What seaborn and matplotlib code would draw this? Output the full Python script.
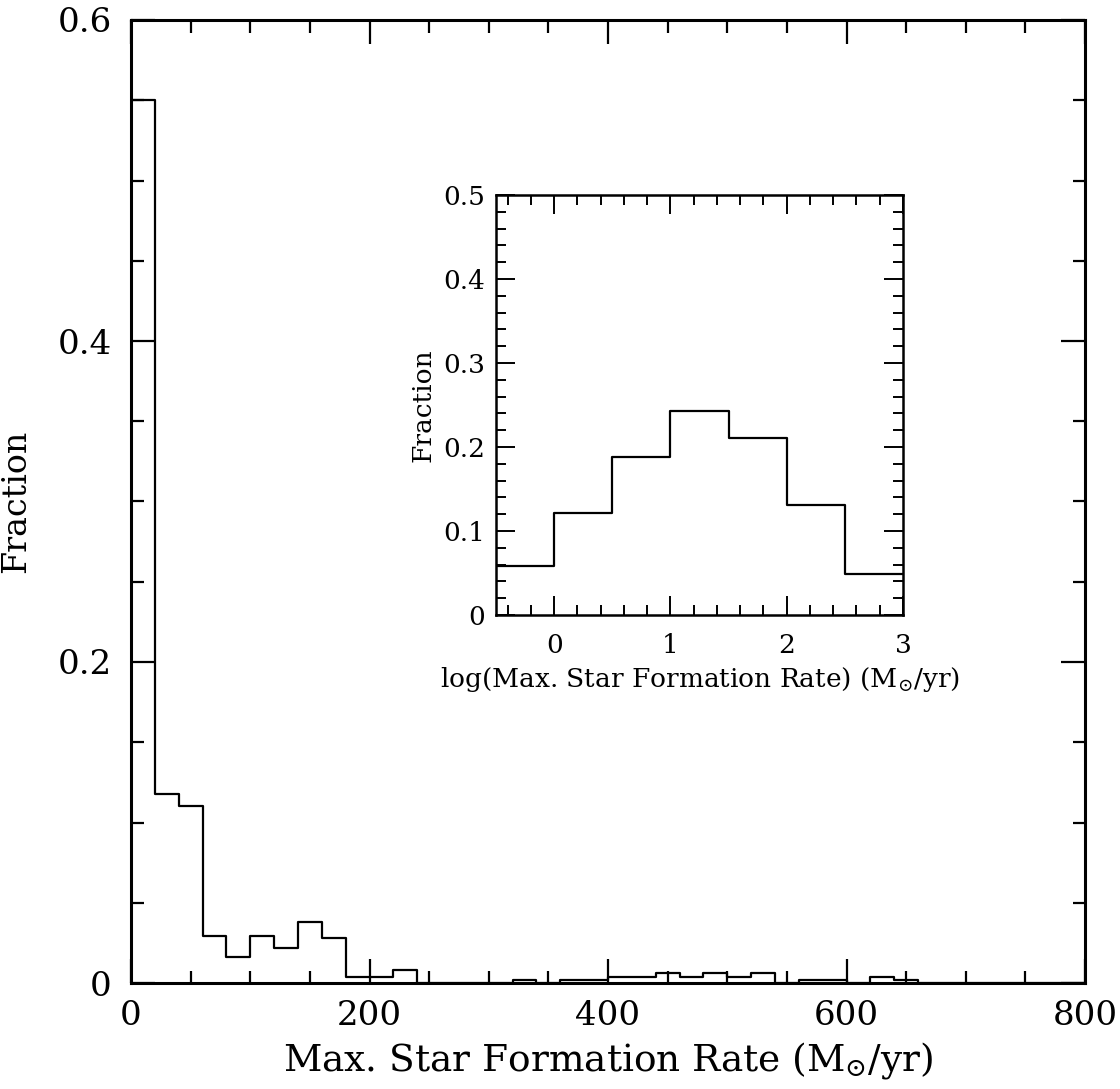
import numpy as np
import pandas as pd
import matplotlib
matplotlib.use("Agg")
import matplotlib.pyplot as plt
from matplotlib.ticker import MultipleLocator, FixedLocator
import seaborn as sns

# ---- data ----
# main histogram: bin edges every 20 (M_sun/yr), fraction per bin
main_edges = list(range(0, 820, 20))
main_fraction = [0.550, 0.118, 0.110, 0.029, 0.016, 0.029, 0.022, 0.038, 0.028, 0.004,
                 0.004, 0.008, 0.0, 0.0, 0.0, 0.0, 0.002, 0.0, 0.002, 0.002,
                 0.004, 0.004, 0.006, 0.004, 0.006, 0.004, 0.006, 0.0, 0.002, 0.002,
                 0.0, 0.004, 0.002, 0.0, 0.0, 0.0, 0.0, 0.0, 0.0, 0.0]
# inset histogram: log SFR bins of 0.5
inset_edges = [-0.5, 0.0, 0.5, 1.0, 1.5, 2.0, 2.5, 3.0]
inset_fraction = [0.058, 0.121, 0.188, 0.243, 0.211, 0.131, 0.049]

main_xticks = [0, 200, 400, 600, 800]
main_yticks = [0, 0.2, 0.4, 0.6]
inset_xticks = [0, 1, 2, 3]
inset_yticks = [0, 0.1, 0.2, 0.3, 0.4, 0.5]

sns.set_theme(style="ticks")
plt.rcParams["font.family"] = ["DejaVu Serif", "DejaVu Sans"]
plt.rcParams["mathtext.fontset"] = "dejavuserif"

fig = plt.figure(figsize=(11.2, 10.89), dpi=100)

main_df = pd.DataFrame({
    "x": [(a + b) / 2 for a, b in zip(main_edges[:-1], main_edges[1:])],
    "w": main_fraction,
})
inset_df = pd.DataFrame({
    "x": [(a + b) / 2 for a, b in zip(inset_edges[:-1], inset_edges[1:])],
    "w": inset_fraction,
})

ax = fig.add_axes([131 / 1120, 1 - 983 / 1089, (1085 - 131) / 1120, (983 - 20) / 1089])
sns.histplot(data=main_df, x="x", weights="w", bins=main_edges, element="step",
             fill=False, color="black", linewidth=1.6, ax=ax)
ax.set_xlim(0, 800)
ax.set_ylim(0, 0.6)
ax.xaxis.set_major_locator(FixedLocator(main_xticks))
ax.yaxis.set_major_locator(FixedLocator(main_yticks))
ax.xaxis.set_minor_locator(MultipleLocator(50))
ax.yaxis.set_minor_locator(MultipleLocator(0.05))
ax.set_xticklabels([str(v) for v in main_xticks])
ax.set_yticklabels(["0", "0.2", "0.4", "0.6"])
ax.tick_params(which="both", direction="in", top=True, right=True, color="black",
               width=1.6, labelsize=24.5, labelcolor="black")
ax.tick_params(which="major", length=17)
ax.tick_params(which="minor", length=9)
ax.tick_params(axis="x", which="major", pad=12)
ax.tick_params(axis="y", which="major", pad=14)
for s in ax.spines.values():
    s.set_linewidth(2.2)
    s.set_color("black")
ax.set_xlabel(r"Max. Star Formation Rate (M$_{\odot}$/yr)", fontsize=27, labelpad=6, color="black")
ax.set_ylabel("Fraction", fontsize=24, labelpad=18, color="black")

ins = fig.add_axes([496 / 1120, 1 - 615 / 1089, (903 - 496) / 1120, (615 - 195) / 1089])
sns.histplot(data=inset_df, x="x", weights="w", bins=inset_edges, element="step",
             fill=False, color="black", linewidth=1.6, ax=ins)
ins.set_xlim(-0.5, 3)
ins.set_ylim(0, 0.5)
ins.xaxis.set_major_locator(FixedLocator(inset_xticks))
ins.yaxis.set_major_locator(FixedLocator(inset_yticks))
ins.xaxis.set_minor_locator(MultipleLocator(0.2))
ins.yaxis.set_minor_locator(MultipleLocator(0.02))
ins.set_xticklabels([str(v) for v in inset_xticks])
ins.set_yticklabels(["0", "0.1", "0.2", "0.3", "0.4", "0.5"])
ins.tick_params(which="both", direction="in", top=True, right=True, color="black",
                width=1.4, labelsize=19, labelcolor="black")
ins.tick_params(which="major", length=14)
ins.tick_params(which="minor", length=7)
ins.tick_params(axis="x", which="major", pad=13)
ins.tick_params(axis="y", which="major", pad=8)
for s in ins.spines.values():
    s.set_linewidth(1.8)
    s.set_color("black")
ins.set_xlabel(r"log(Max. Star Formation Rate) (M$_{\odot}$/yr)", fontsize=19, labelpad=5, color="black")
ins.set_ylabel("Fraction", fontsize=19, labelpad=5, color="black")

fig.savefig("out.png", dpi=100, facecolor="white")
